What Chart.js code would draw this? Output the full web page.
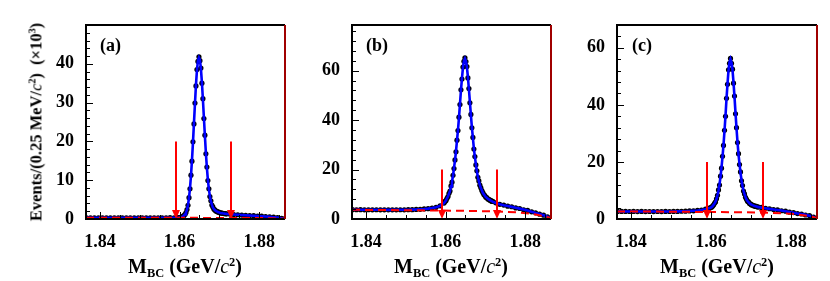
<!DOCTYPE html>
<html>
<head>
<meta charset="utf-8">
<script src="https://cdn.jsdelivr.net/npm/chart.js@4/dist/chart.umd.min.js"></script>
<style>
  body { margin: 0; background: #fff; width: 830px; height: 281px; overflow: hidden; position: relative;
         font-family: "Liberation Serif", "Times New Roman", serif; }
  canvas { position: absolute; top: 0; }
  .t { position: absolute; font-weight: bold; white-space: nowrap; color: #000; line-height: 1; }
  .t i { font-weight: normal; }
  .t sup { font-size: 0.62em; vertical-align: 0.55em; }
  .t sub { font-size: 0.62em; vertical-align: -0.3em; }
  .lab { font-size: 18px; top: 36px; }
  .xt { font-size: 20px; top: 256px; transform: translateX(-50%); }
  .yt { font-size: 16.5px; left: 36px; top: 122px; transform: translate(-50%, -50%) rotate(-90deg); }
</style>
</head>
<body>
<canvas id="pa" width="290" height="281" style="left:0px"></canvas>
<canvas id="pb" width="265" height="281" style="left:290px"></canvas>
<canvas id="pc" width="275" height="281" style="left:555px"></canvas>

<div class="t yt">Events/(0.25 MeV/<i>c</i><sup>2</sup>)&nbsp;&nbsp;(×10<sup>3</sup>)</div>
<div class="t lab" style="left:100px">(a)</div>
<div class="t lab" style="left:366px">(b)</div>
<div class="t lab" style="left:632px">(c)</div>
<div class="t xt" style="left:185px">M<sub>BC</sub> (GeV/<i>c</i><sup>2</sup>)</div>
<div class="t xt" style="left:451px">M<sub>BC</sub> (GeV/<i>c</i><sup>2</sup>)</div>
<div class="t xt" style="left:717px">M<sub>BC</sub> (GeV/<i>c</i><sup>2</sup>)</div>

<script>
// M_BC bin centres (GeV/c^2): 1 MeV apart in the sidebands, 0.25 MeV around the peak
const mbc = [
  1.836625, 1.837625, 1.838625, 1.839625, 1.840625, 1.841625, 1.842625, 1.843625,
  1.844625, 1.845625, 1.846625, 1.847625, 1.848625, 1.849625, 1.850625, 1.851625,
  1.852625, 1.853625, 1.854625, 1.855625, 1.856625, 1.857625, 1.858625, 1.859625,
  1.859875, 1.860125, 1.860375, 1.860625, 1.860875, 1.861125, 1.861375, 1.861625,
  1.861875, 1.862125, 1.862375, 1.862625, 1.862875, 1.863125, 1.863375, 1.863625,
  1.863875, 1.864125, 1.864375, 1.864625, 1.864875, 1.865125, 1.865375, 1.865625,
  1.865875, 1.866125, 1.866375, 1.866625, 1.866875, 1.867125, 1.867375, 1.867625,
  1.867875, 1.868125, 1.868375, 1.868625, 1.868875, 1.869125, 1.869375, 1.869625,
  1.869875, 1.870125, 1.870375, 1.870625, 1.870875, 1.871125, 1.871375, 1.871625,
  1.871875, 1.872625, 1.873625, 1.874625, 1.875625, 1.876625, 1.877625, 1.878625,
  1.879625, 1.880625, 1.881625, 1.882625, 1.883625, 1.884625, 1.885625, 1.886375
];

// events per bin (x10^3)
const dataA = [
  0.31, 0.30, 0.29, 0.30, 0.31, 0.30, 0.29, 0.30, 0.31, 0.30, 0.29, 0.31, 0.30, 0.30, 0.31, 0.29,
  0.30, 0.31, 0.30, 0.32, 0.31, 0.33, 0.32, 0.35,
  0.36, 0.39, 0.47, 0.54, 0.72, 0.88, 1.22, 1.68, 2.45, 3.55, 5.5, 7.8, 11.3, 14.9, 19.9, 24.5,
  29.9, 34.3, 38.5, 40.6, 41.8, 40.8, 38.9, 35.0, 31.0, 25.9, 21.6, 16.8, 13.4, 9.9, 7.8, 5.8,
  4.7, 3.6, 3.1, 2.55, 2.35, 2.05, 1.98, 1.79, 1.75, 1.61, 1.59, 1.49, 1.48, 1.40, 1.39, 1.33, 1.34,
  1.27, 1.14, 1.10, 1.00, 0.97, 0.88, 0.85, 0.77, 0.73, 0.64, 0.58, 0.46, 0.36, 0.17, 0.06
];
const fitA = [
  0.30, 0.31, 0.30, 0.29, 0.30, 0.31, 0.30, 0.29, 0.30, 0.31, 0.30, 0.30, 0.29, 0.31, 0.30, 0.30,
  0.31, 0.30, 0.31, 0.31, 0.32, 0.32, 0.33, 0.34,
  0.35, 0.40, 0.45, 0.55, 0.70, 0.90, 1.2, 1.7, 2.4, 3.6, 5.4, 7.9, 11.1, 15.1, 19.7, 24.7,
  29.7, 34.5, 38.3, 40.8, 41.6, 41.0, 38.7, 35.2, 30.8, 26.1, 21.4, 17.0, 13.2, 10.1, 7.7, 5.9,
  4.6, 3.7, 3.0, 2.6, 2.3, 2.1, 1.95, 1.82, 1.72, 1.64, 1.57, 1.51, 1.46, 1.42, 1.38, 1.35, 1.32,
  1.25, 1.16, 1.09, 1.02, 0.96, 0.90, 0.84, 0.78, 0.72, 0.65, 0.57, 0.47, 0.35, 0.18, 0.05
];

const dataB = [
  3.78, 3.74, 3.76, 3.73, 3.75, 3.71, 3.74, 3.70, 3.73, 3.70, 3.72, 3.71, 3.74, 3.73, 3.78, 3.79,
  3.87, 3.91, 4.07, 4.18, 4.45, 4.72, 5.35, 6.45,
  7.1, 7.5, 8.4, 9.1, 10.4, 11.3, 13.4, 14.9, 17.7, 20.4, 23.9, 27.2, 31.9, 35.8, 41.2, 46.3,
  52.3, 56.6, 61.5, 63.8, 65.2, 63.7, 61.7, 57.1, 52.8, 47.0, 42.3, 36.9, 33.0, 28.3, 25.3, 21.9,
  19.5, 16.9, 15.4, 13.7, 12.6, 11.5, 10.7, 9.9, 9.5, 8.8, 8.7, 8.1, 8.0, 7.6, 7.5, 7.1, 7.1,
  6.55, 5.95, 5.65, 5.2, 4.95, 4.5, 4.25, 3.75, 3.45, 2.9, 2.5, 1.95, 1.55, 0.85, 0.2
];
const fitB = [
  3.76, 3.75, 3.75, 3.74, 3.74, 3.73, 3.73, 3.72, 3.72, 3.71, 3.71, 3.72, 3.72, 3.74, 3.76, 3.80,
  3.85, 3.93, 4.04, 4.20, 4.42, 4.75, 5.3, 6.5,
  7.0, 7.6, 8.3, 9.2, 10.2, 11.4, 13.2, 15.1, 17.5, 20.6, 23.7, 27.4, 31.7, 36.0, 40.9, 46.5,
  52.0, 56.9, 61.2, 64.0, 64.9, 63.9, 61.4, 57.4, 52.5, 47.3, 42.0, 37.1, 32.8, 28.5, 25.1, 22.1,
  19.3, 17.1, 15.3, 13.8, 12.5, 11.6, 10.6, 10.0, 9.4, 8.9, 8.6, 8.2, 7.9, 7.7, 7.4, 7.2, 7.0,
  6.5, 6.0, 5.6, 5.25, 4.9, 4.55, 4.2, 3.8, 3.4, 2.95, 2.45, 2.0, 1.5, 0.9, 0.15
];

const dataC = [
  2.67, 2.64, 2.66, 2.63, 2.65, 2.62, 2.64, 2.61, 2.63, 2.61, 2.63, 2.61, 2.64, 2.63, 2.66, 2.66,
  2.72, 2.73, 2.82, 2.86, 3.00, 3.12, 3.43, 3.79,
  4.0, 4.1, 4.5, 4.9, 5.5, 6.0, 7.1, 8.3, 10.2, 11.9, 15.0, 17.8, 22.0, 25.8, 31.1, 36.0,
  42.3, 47.2, 52.3, 54.6, 56.3, 54.6, 52.5, 47.6, 43.1, 36.9, 32.0, 26.8, 22.9, 19.1, 16.5, 13.4,
  11.7, 9.8, 8.8, 7.6, 6.9, 6.2, 6.0, 5.4, 5.3, 4.95, 4.9, 4.65, 4.6, 4.4, 4.4, 4.2, 4.2,
  4.05, 3.75, 3.6, 3.3, 3.2, 2.9, 2.75, 2.4, 2.25, 1.9, 1.75, 1.4, 1.2, 0.7, 0.15
];
const fitC = [
  2.66, 2.65, 2.65, 2.64, 2.64, 2.63, 2.63, 2.62, 2.62, 2.62, 2.62, 2.62, 2.63, 2.64, 2.65, 2.67,
  2.70, 2.74, 2.80, 2.88, 2.98, 3.14, 3.40, 3.82,
  3.95, 4.15, 4.45, 4.95, 5.4, 6.1, 7.0, 8.4, 10.0, 12.1, 14.8, 18.0, 21.8, 26.0, 30.9, 36.2,
  42.1, 47.4, 52.0, 54.9, 56.0, 54.85, 52.25, 47.9, 42.8, 37.2, 31.8, 27.0, 22.7, 19.3, 16.3, 13.6,
  11.5, 9.9, 8.7, 7.7, 6.8, 6.3, 5.9, 5.5, 5.2, 5.0, 4.85, 4.7, 4.55, 4.45, 4.35, 4.25, 4.15,
  4.0, 3.8, 3.55, 3.35, 3.15, 2.95, 2.7, 2.45, 2.2, 1.95, 1.7, 1.45, 1.15, 0.75, 0.12
];

// background (ARGUS) shape
const bkgX = [1.8365, 1.845, 1.855, 1.865, 1.873, 1.878, 1.881, 1.883, 1.8845, 1.8855, 1.8862, 1.8865];
const bkgA = [0.30, 0.30, 0.30, 0.29, 0.28, 0.26, 0.23, 0.19, 0.15, 0.11, 0.06, 0.0];
const bkgB = [3.72, 3.62, 3.47, 3.30, 3.05, 2.70, 2.20, 1.70, 1.25, 0.85, 0.45, 0.0];
const bkgC = [2.66, 2.60, 2.50, 2.40, 2.25, 2.00, 1.70, 1.35, 1.00, 0.70, 0.35, 0.0];

// signal window
const cutX = [1.859, 1.873];
const arrowTop = 20;

const xTicks = [1.84, 1.86, 1.88];
const yTicksA = [0, 10, 20, 30, 40];
const yTicksB = [0, 20, 40, 60];
const yTicksC = [0, 20, 40, 60];

const font = { family: '"Liberation Serif", "Times New Roman", serif', size: 18, weight: 'bold' };

// frame, inward ticks and the cut arrows
const deco = {
  id: 'deco',
  afterDatasetsDraw(chart, args, o) {
    const { ctx, chartArea: a, scales: { x, y } } = chart;
    ctx.save();
    ctx.strokeStyle = '#ff0000';
    ctx.fillStyle = '#ff0000';
    ctx.lineWidth = 2;
    cutX.forEach(v => {
      const px = Math.round(x.getPixelForValue(v));
      const top = y.getPixelForValue(arrowTop), tip = y.getPixelForValue(0);
      ctx.beginPath(); ctx.moveTo(px, top); ctx.lineTo(px, tip - 4); ctx.stroke();
      ctx.beginPath(); ctx.moveTo(px - 4, tip - 9); ctx.lineTo(px, tip); ctx.lineTo(px + 4, tip - 9); ctx.closePath(); ctx.fill();
    });

    ctx.strokeStyle = '#000';
    ctx.lineWidth = 1;
    for (let k = 0; k <= 9; k++) {
      const v = 1.84 + k * 0.005;
      const px = Math.round(x.getPixelForValue(v)) + 0.5;
      const len = k % 4 === 0 ? 7 : 4;
      ctx.beginPath(); ctx.moveTo(px, a.bottom); ctx.lineTo(px, a.bottom - len); ctx.stroke();
    }
    for (let v = 0; v <= y.max; v += o.minor) {
      const py = Math.round(y.getPixelForValue(v)) + 0.5;
      const len = Math.abs(v / o.major - Math.round(v / o.major)) < 1e-6 ? 7 : 4;
      ctx.beginPath(); ctx.moveTo(a.left, py); ctx.lineTo(a.left + len, py); ctx.stroke();
    }

    ctx.lineWidth = 2;
    ctx.strokeStyle = '#000';
    ctx.beginPath();
    ctx.moveTo(a.right, a.top); ctx.lineTo(a.left, a.top); ctx.lineTo(a.left, a.bottom); ctx.lineTo(a.right, a.bottom);
    ctx.stroke();
    ctx.strokeStyle = '#a00000';
    ctx.beginPath(); ctx.moveTo(a.right, a.top); ctx.lineTo(a.right, a.bottom); ctx.stroke();
    ctx.restore();
  }
};

function panel(id, frameLeft, canvasLeft, padRight, yMax, yTicks, major, minor, data, fit, bkg) {
  new Chart(document.getElementById(id), {
    type: 'scatter',
    data: {
      datasets: [
        { data: bkgX.map((x, i) => ({ x, y: bkg[i] })), showLine: true, borderColor: '#ff0000',
          borderWidth: 2, borderDash: [8, 5], pointRadius: 0, order: 1 },
        { data: mbc.map((x, i) => ({ x, y: fit[i] })), showLine: true, borderColor: '#0000ff',
          borderWidth: 2.6, pointRadius: 0, order: 2 },
        { data: mbc.map((x, i) => ({ x, y: data[i] })), pointRadius: 2.6, pointBorderWidth: 0,
          pointBackgroundColor: '#000', order: 3 }
      ]
    },
    options: {
      responsive: false,
      animation: false,
      devicePixelRatio: 1,
      layout: { padding: { top: 25, right: padRight, left: 0, bottom: 0 } },
      plugins: { legend: { display: false }, tooltip: { enabled: false }, deco: { major, minor } },
      scales: {
        x: {
          type: 'linear', min: 1.8365, max: 1.8865,
          afterBuildTicks: s => { s.ticks = xTicks.map(v => ({ value: v })); },
          afterFit: s => { s.height = 281 - 219; },
          grid: { display: false }, border: { display: false },
          ticks: { font, color: '#000', padding: 5, maxRotation: 0, autoSkip: false,
                   callback: v => v.toFixed(2) }
        },
        y: {
          min: 0, max: yMax,
          afterBuildTicks: s => { s.ticks = yTicks.map(v => ({ value: v })); },
          afterFit: s => { s.width = frameLeft - canvasLeft; },
          grid: { display: false }, border: { display: false },
          ticks: { font, color: '#000', padding: 4 }
        }
      }
    },
    plugins: [deco]
  });
}

panel('pa', 86, 0, 5, 50, yTicksA, 10, 2, dataA, fitA, bkgA);
panel('pb', 352, 290, 4, 78.5, yTicksB, 20, 4, dataB, fitB, bkgB);
panel('pc', 617, 555, 13, 68, yTicksC, 20, 4, dataC, fitC, bkgC);
</script>
</body>
</html>
